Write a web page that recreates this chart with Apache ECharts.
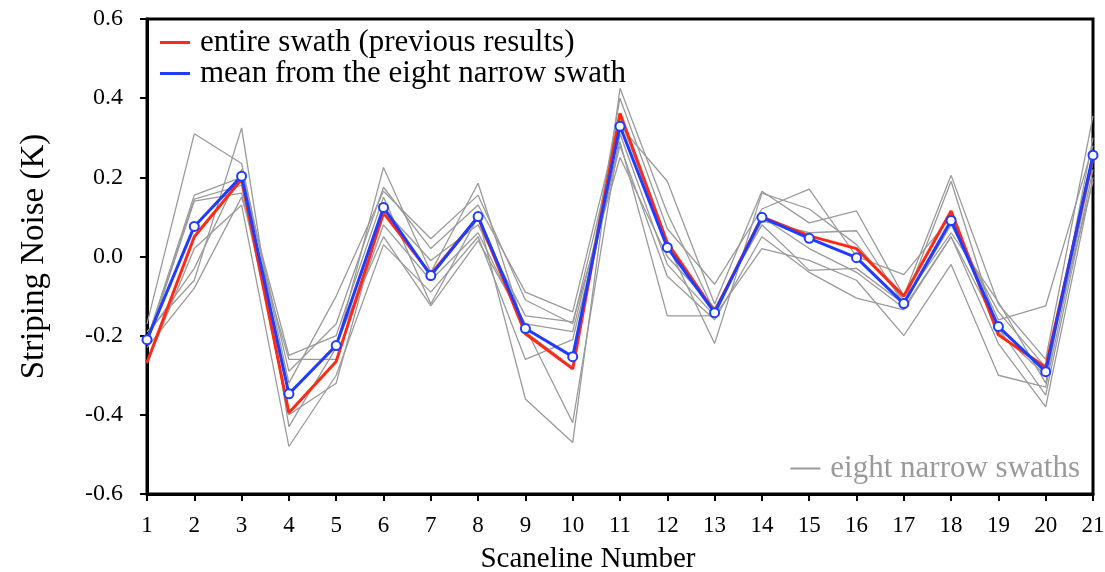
<!DOCTYPE html>
<html>
<head>
<meta charset="utf-8">
<script src="https://cdn.jsdelivr.net/npm/echarts@6/dist/echarts.min.js"></script>
<style>
  html, body { margin: 0; padding: 0; background: #fff; }
  #chart { width: 1105px; height: 572px; }
</style>
</head>
<body>
<div id="chart"></div>
<script>
// Scanline numbers 1..21
const scanlines = [1, 2, 3, 4, 5, 6, 7, 8, 9, 10, 11, 12, 13, 14, 15, 16, 17, 18, 19, 20, 21];

// Striping noise (K) from the entire swath
const entireSwath = [-0.268, 0.05, 0.195, -0.395, -0.265, 0.11, -0.045, 0.10, -0.195, -0.284, 0.362,
  0.035, -0.14, 0.10, 0.052, 0.02, -0.10, 0.115, -0.198, -0.28, 0.25];

// Mean of the eight narrow swaths
const narrowMean = [-0.21, 0.076, 0.203, -0.347, -0.225, 0.124, -0.048, 0.101, -0.182, -0.253, 0.329,
  0.023, -0.142, 0.099, 0.046, -0.003, -0.119, 0.091, -0.177, -0.291, 0.256];

// Individual narrow swaths
const swathA = [-0.17, 0.31, 0.235, -0.32, -0.10, 0.165, 0.045, 0.155, -0.11, -0.17, 0.33,
  0.19, -0.12, 0.165, 0.085, 0.115, -0.10, 0.205, -0.12, -0.26, 0.355];
const swathB = [-0.19, -0.06, 0.325, -0.43, -0.23, 0.225, -0.04, 0.185, -0.19, -0.28, 0.40,
  0.07, -0.07, 0.12, 0.17, 0.0, -0.046, 0.10, -0.16, -0.125, 0.28];
const swathC = [-0.20, -0.03, 0.22, -0.29, -0.17, 0.175, 0.02, 0.13, -0.09, -0.14, 0.35,
  0.03, -0.22, 0.16, 0.12, 0.03, -0.11, 0.06, -0.115, -0.32, 0.30];
const swathD = [-0.21, 0.155, 0.20, -0.25, -0.20, 0.15, -0.12, 0.10, -0.36, -0.47, 0.425,
  0.11, -0.14, 0.09, 0.06, 0.065, -0.12, 0.19, -0.19, -0.30, 0.26];
const swathE = [-0.21, 0.145, 0.18, -0.40, -0.32, 0.12, -0.01, 0.08, -0.15, -0.165, 0.25,
  0.0, -0.13, 0.08, -0.035, -0.03, -0.12, 0.08, -0.14, -0.28, 0.19];
const swathF = [-0.22, 0.14, 0.16, -0.35, -0.22, 0.05, -0.125, 0.04, -0.17, -0.19, 0.29,
  -0.15, -0.15, 0.10, 0.02, -0.04, -0.13, 0.05, -0.18, -0.35, 0.22];
const swathG = [-0.23, -0.08, 0.15, -0.26, -0.26, 0.08, -0.06, 0.06, -0.18, -0.42, 0.31,
  -0.02, -0.15, 0.02, -0.01, -0.06, -0.20, -0.02, -0.30, -0.33, 0.24];
const swathH = [-0.27, 0.02, 0.13, -0.48, -0.30, 0.03, -0.09, 0.05, -0.26, -0.21, 0.28,
  -0.05, -0.16, 0.05, -0.04, -0.105, -0.135, 0.05, -0.22, -0.38, 0.20];

const narrowSwaths = [swathA, swathB, swathC, swathD, swathE, swathF, swathG, swathH];

const RED = '#ff2a16';
const BLUE = '#1f3cff';
const GRAY = '#9a9a9a';
const SERIF = '"Liberation Serif", "Times New Roman", serif';

const pairs = vals => scanlines.map((s, i) => [s, vals[i]]);

const graySeries = narrowSwaths.map(vals => ({
  name: 'eight narrow swaths',
  type: 'line',
  data: pairs(vals),
  symbol: 'none',
  lineStyle: { color: GRAY, width: 1.3 },
  itemStyle: { color: GRAY },
  z: 1,
  silent: true
}));

const chart = echarts.init(document.getElementById('chart'), null, { renderer: 'canvas' });

chart.setOption({
  animation: false,
  backgroundColor: '#fff',
  grid: {
    left: 147, right: 12, top: 19, bottom: 78,
    outerBoundsMode: 'none',
    containLabel: false,
    show: true, borderColor: '#000', borderWidth: 3, backgroundColor: 'transparent'
  },
  legend: [
    {
      data: [
        { name: 'entire swath (previous results)', itemStyle: { color: RED, borderWidth: 0 } },
        { name: 'mean from the eight narrow swath', itemStyle: { color: BLUE, borderWidth: 0 } }
      ],
      orient: 'vertical',
      left: 160, top: 27, padding: 0,
      icon: 'rect', itemWidth: 30, itemHeight: 3, itemGap: 0,
      selectedMode: false,
      textStyle: { fontFamily: SERIF, fontSize: 31, color: '#000', lineHeight: 30, padding: [0, 0, 0, 5] }
    },
    {
      data: [{ name: 'eight narrow swaths', itemStyle: { color: GRAY, borderWidth: 0 } }],
      right: 25, top: 453, padding: 0,
      icon: 'rect', itemWidth: 30, itemHeight: 2, itemGap: 0,
      selectedMode: false,
      textStyle: { fontFamily: SERIF, fontSize: 31, color: GRAY, lineHeight: 30, padding: [0, 0, 0, 5] }
    }
  ],
  xAxis: {
    type: 'value',
    min: 1, max: 21, interval: 1,
    name: 'Scaneline Number',
    nameLocation: 'middle',
    nameGap: 51,
    nameTextStyle: { fontFamily: SERIF, fontSize: 29, color: '#000', padding: [0, 64, 0, 0] },
    axisLine: { onZero: false, lineStyle: { color: '#000', width: 3 } },
    axisTick: { inside: false, length: 7, lineStyle: { color: '#000', width: 2 } },
    axisLabel: { fontFamily: SERIF, fontSize: 23, color: '#000', margin: 20 },
    splitLine: { show: false }
  },
  yAxis: {
    type: 'value',
    min: -0.6, max: 0.6, interval: 0.2,
    name: 'Striping Noise (K)',
    nameLocation: 'middle',
    nameGap: 96,
    nameRotate: 90,
    nameTextStyle: { fontFamily: SERIF, fontSize: 33, color: '#000' },
    axisLine: { onZero: false, lineStyle: { color: '#000', width: 3 } },
    axisTick: { inside: false, length: 7, lineStyle: { color: '#000', width: 2 } },
    axisLabel: {
      fontFamily: SERIF, fontSize: 24, color: '#000', margin: 24,
      formatter: v => v.toFixed(1)
    },
    splitLine: { show: false }
  },
  series: [
    ...graySeries,
    {
      name: 'entire swath (previous results)',
      type: 'line',
      data: pairs(entireSwath),
      symbol: 'none',
      lineStyle: { color: RED, width: 3 },
      itemStyle: { color: RED },
      z: 3
    },
    {
      name: 'mean from the eight narrow swath',
      type: 'line',
      data: pairs(narrowMean),
      symbol: 'emptyCircle',
      symbolSize: 9,
      lineStyle: { color: BLUE, width: 3 },
      itemStyle: { color: BLUE, borderColor: BLUE, borderWidth: 2.5 },
      z: 4
    }
  ]
});
</script>
</body>
</html>
